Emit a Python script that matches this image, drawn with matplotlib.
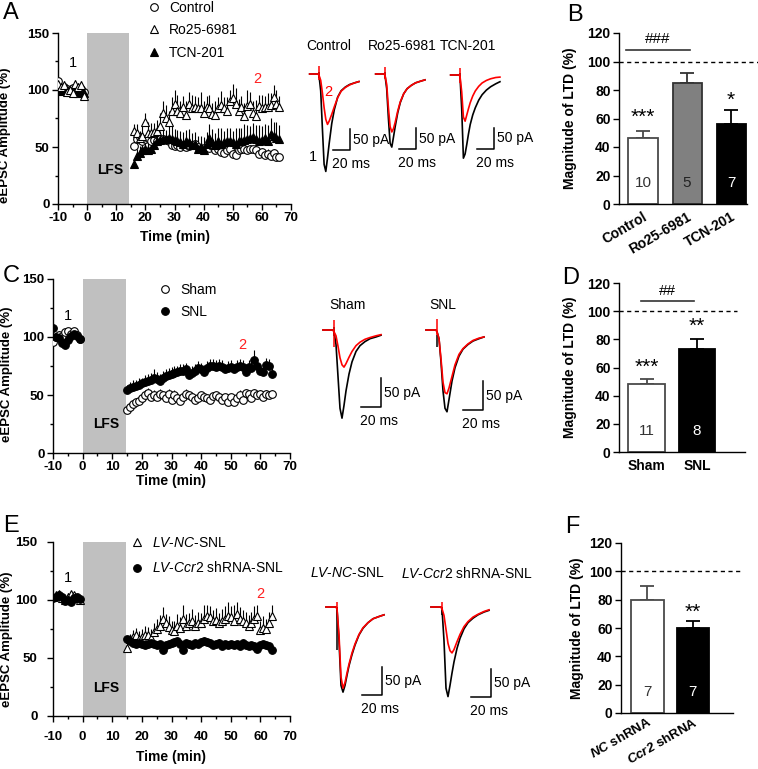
import numpy as np
import matplotlib
matplotlib.use('Agg')
import matplotlib.pyplot as plt
from matplotlib.ticker import MultipleLocator

plt.rcParams.update({
    'font.family': ['Liberation Sans', 'DejaVu Sans'],
    'font.size': 10,
    'axes.unicode_minus': False,
    'mathtext.fontset': 'custom',
    'mathtext.rm': 'Liberation Sans',
    'mathtext.it': 'Liberation Sans:italic',
    'mathtext.bf': 'Liberation Sans:bold:italic',
    'axes.linewidth': 1.0,
})

# ---------------- DATA ----------------
# Panel A (time course, % of baseline)
tA_base = [-10, -9, -8, -7, -6, -5, -4, -3, -2, -1]
tA_post = list(range(16, 67))
A_ctrl_base = [108, 100, 103, 101, 100, 102, 100, 99, 101, 98]
A_ctrl_post = [51, 57, 59, 55, 57, 58, 55, 56, 55, 57, 57, 56, 55, 52, 51, 52, 50, 52, 50, 51,
               52, 53, 50, 48, 49, 50, 49, 51, 47, 48, 46, 45, 47, 48, 44, 43, 47, 48, 48, 47,
               48, 48, 47, 44, 46, 43, 44, 42, 45, 41, 41]
A_ctrl_err_base = [3, 3, 2, 3, 2, 3, 2, 3, 2, 3]
A_ctrl_err_post = [4, 4, 3, 4, 3, 4, 3, 3, 4, 3, 3, 4, 3, 3, 3, 4, 3, 3, 3, 4,
                   3, 3, 4, 3, 3, 3, 4, 3, 3, 3, 4, 3, 3, 3, 4, 3, 3, 3, 4, 3,
                   3, 3, 4, 3, 3, 3, 4, 3, 3, 3, 3]
A_ro_base = [105, 103, 104, 98, 100, 97, 105, 103, 104, 95]
A_ro_post = [64, 62, 58, 60, 72, 62, 62, 63, 64, 68, 80, 75, 72, 82, 88, 82, 80, 85, 78, 88,
             84, 85, 84, 84, 80, 85, 84, 79, 78, 84, 87, 84, 82, 90, 93, 88, 82, 85, 77, 86,
             88, 80, 77, 86, 84, 85, 85, 87, 94, 88, 85]
A_ro_err_base = [4, 3, 4, 3, 4, 3, 4, 3, 4, 3]
A_ro_err_post = [6, 8, 6, 8, 8, 10, 9, 8, 10, 12, 10, 12, 10, 12, 12, 14, 10, 10, 12, 10,
                 12, 10, 10, 14, 10, 10, 12, 10, 12, 10, 12, 10, 12, 10, 12, 14, 10, 10, 12, 14,
                 10, 10, 14, 10, 12, 10, 12, 10, 10, 12, 10]
A_tcn_base = [100, 99, 101, 100, 98, 101, 99, 97, 100, 97]
A_tcn_post = [35, 42, 45, 47, 48, 47, 48, 52, 55, 56, 57, 57, 58, 57, 56, 55, 54, 53, 55, 54,
              52, 53, 48, 50, 47, 53, 58, 54, 52, 55, 53, 54, 55, 55, 54, 53, 55, 55, 56, 57,
              58, 59, 57, 55, 56, 58, 55, 61, 60, 58, 57]
A_tcn_err_base = [3, 2, 3, 2, 3, 2, 3, 2, 3, 2]
A_tcn_err_post = [4, 6, 6, 6, 6, 8, 8, 8, 8, 8, 10, 8, 10, 12, 10, 10, 10, 10, 10, 12,
                  10, 10, 12, 10, 12, 10, 12, 12, 10, 12, 14, 10, 12, 12, 10, 14, 12, 12, 14, 12,
                  10, 12, 12, 14, 12, 12, 14, 14, 12, 14, 12]

# Panel C
tC_base = [-10, -9, -8, -7, -6, -5, -4, -3, -2, -1]
tC_post = list(range(15, 65))
C_sham_base = [96, 100, 102, 101, 104, 105, 103, 105, 102, 98]
C_sham_post = [37, 40, 42, 44, 45, 47, 50, 52, 48, 50, 48, 51, 50, 47, 51, 46, 50, 47, 45, 48,
               51, 50, 48, 46, 47, 50, 48, 47, 46, 49, 50, 48, 46, 48, 44, 48, 44, 47, 50, 46,
               52, 51, 47, 52, 50, 51, 48, 51, 50, 51]
C_sham_err_base = [3, 3, 3, 3, 3, 3, 3, 3, 3, 3]
C_sham_err_post = [3, 3, 3, 3, 4, 3, 4, 4, 3, 4, 3, 4, 3, 3, 4, 3, 4, 3, 3, 3,
                   4, 3, 3, 3, 3, 3, 3, 3, 3, 3, 3, 3, 3, 3, 3, 3, 3, 3, 4, 3,
                   3, 3, 3, 3, 3, 3, 3, 3, 3, 3]
C_snl_base = [108, 100, 99, 95, 93, 97, 101, 103, 101, 98]
C_snl_post = [54, 56, 57, 58, 59, 60, 61, 62, 63, 65, 64, 62, 65, 66, 67, 68, 69, 70, 71, 71,
              72, 67, 69, 71, 73, 72, 70, 73, 75, 75, 74, 75, 74, 72, 73, 74, 72, 74, 75, 74,
              70, 74, 73, 80, 75, 71, 70, 76, 75, 68]
C_snl_err_base = [4, 3, 4, 3, 4, 3, 4, 3, 3, 3]
C_snl_err_post = [5, 5, 6, 5, 6, 5, 6, 6, 6, 7, 6, 6, 6, 6, 6, 6, 6, 5, 6, 6,
                  6, 5, 6, 6, 6, 6, 5, 6, 6, 6, 6, 6, 6, 5, 6, 6, 5, 6, 6, 6,
                  6, 6, 6, 9, 6, 6, 6, 6, 6, 6]

# Panel E
tE_base = [-10, -9, -8, -7, -6, -5, -4, -3, -2, -1]
tE_post = list(range(15, 65))
E_nc_base = [103, 104, 105, 102, 100, 103, 105, 104, 102, 100]
E_nc_post = [59, 66, 68, 70, 66, 68, 70, 70, 67, 72, 75, 78, 84, 80, 77, 74, 73, 78, 76, 84,
             78, 80, 82, 78, 80, 80, 84, 86, 85, 82, 83, 80, 82, 84, 86, 85, 82, 88, 84, 82,
             80, 78, 80, 84, 86, 74, 76, 75, 80, 86]
E_nc_err_base = [3, 3, 3, 3, 3, 3, 3, 3, 3, 3]
E_nc_err_post = [5, 5, 6, 6, 7, 7, 8, 7, 8, 8, 9, 9, 10, 8, 9, 8, 9, 10, 9, 12,
                 10, 9, 10, 9, 10, 9, 12, 10, 10, 9, 10, 9, 10, 11, 12, 10, 14, 10, 10, 9,
                 10, 9, 10, 11, 10, 8, 10, 9, 10, 10]
E_ccr_base = [102, 103, 104, 103, 99, 100, 98, 102, 103, 101]
E_ccr_post = [66, 65, 63, 62, 63, 62, 61, 62, 63, 62, 61, 62, 57, 61, 62, 63, 64, 65, 62, 57,
              63, 62, 61, 63, 62, 64, 65, 64, 63, 61, 62, 63, 60, 62, 61, 62, 61, 62, 60, 63,
              61, 60, 61, 60, 58, 61, 62, 61, 60, 57]
E_ccr_err_base = [2, 2, 2, 2, 2, 2, 2, 2, 2, 2]
E_ccr_err_post = [3, 3, 3, 3, 3, 3, 3, 3, 3, 3, 3, 3, 3, 3, 3, 3, 3, 3, 3, 3,
                  3, 3, 3, 3, 3, 3, 3, 3, 3, 3, 3, 3, 3, 3, 3, 3, 3, 3, 3, 3,
                  3, 3, 3, 3, 3, 3, 3, 3, 3, 3]

# Bar panels (magnitude of LTD, %)
B_labels = ['Control', 'Ro25-6981', 'TCN-201']
B_vals = [46, 85, 56]
B_errs = [5, 7, 10]
B_n = ['10', '5', '7']
D_labels = ['Sham', 'SNL']
D_vals = [48, 73]
D_errs = [4, 7]
D_n = ['11', '8']
F_labels = [r'$\mathbf{NC}$ shRNA', r'$\mathbf{Ccr2}$ shRNA']
F_vals = [80, 60]
F_errs = [10, 5]
F_n = ['7', '7']

# Example eEPSC traces (time in ms, current in pA)
trace_t = [-11, -1, 0, 2, 4, 6, 8, 10, 12, 15, 18, 22, 26, 31, 36, 42, 47]
tr_ctrl_1 = [0, 0, -3, -40, -130, -215, -232, -200, -165, -118, -85, -55, -40, -31, -25, -21, -18]
tr_ctrl_2 = [0, 0, -3, -15, -45, -80, -108, -120, -112, -96, -78, -56, -41, -32, -26, -21, -18]
tr_ro_1 = [0, 0, -3, -35, -105, -165, -174, -150, -125, -92, -68, -47, -35, -27, -21, -17, -14]
tr_ro_2 = [0, 0, -3, -25, -80, -125, -138, -130, -115, -88, -66, -47, -35, -27, -21, -17, -14]
tr_tcn_1 = [0, 0, -3, -80, -198, -188, -165, -140, -118, -95, -78, -60, -47, -36, -28, -21, -16]
tr_tcn_2 = [0, 0, -3, -40, -100, -110, -95, -80, -66, -50, -38, -27, -19, -13, -9, -6, -5]
tr_sham_1 = [0, 0, -3, -25, -80, -135, -152, -130, -105, -76, -55, -37, -27, -20, -15, -12, -9]
tr_sham_2 = [0, 0, -3, -10, -28, -48, -60, -64, -58, -47, -37, -27, -21, -16, -13, -10, -8]
tr_snl_1 = [0, 0, -3, -15, -55, -105, -135, -141, -120, -88, -65, -45, -33, -25, -19, -15, -12]
tr_snl_2 = [0, 0, -3, -15, -50, -90, -108, -110, -100, -80, -60, -42, -32, -24, -18, -14, -12]
tr_nc_1 = [0, 0, -3, -60, -140, -152, -140, -122, -105, -85, -68, -50, -38, -28, -21, -17, -14]
tr_nc_2 = [0, 0, -3, -50, -125, -145, -135, -118, -102, -82, -66, -49, -37, -28, -21, -17, -14]
tr_ccr_1 = [0, 0, -3, -60, -145, -160, -140, -118, -98, -74, -56, -39, -28, -20, -14, -9, -6]
tr_ccr_2 = [0, 0, -3, -15, -40, -65, -78, -82, -76, -62, -49, -35, -26, -18, -13, -8, -5]

# ---------------- FIGURE ----------------
W, H = 758, 769
fig = plt.figure(figsize=(W / 100, H / 100), dpi=100)


def rect(l, t, r, b):
    return [l / W, 1 - b / H, (r - l) / W, (b - t) / H]


def fx(x):
    return x / W


def fy(y):
    return 1 - y / H


def bold_ticks(ax, size=9.5):
    ax.tick_params(labelsize=size)
    for lab in ax.get_xticklabels() + ax.get_yticklabels():
        lab.set_fontweight('bold')


def ts_panel(r_px, series, lfs_end, one_xy, two_xy, lfs_xy, xlab_y, ylab_x, ylab_y,
             tick_pad=2):
    ax = fig.add_axes(rect(*r_px))
    ax.set_xlim(-10, 70)
    ax.set_ylim(0, 150)
    ax.spines['top'].set_visible(False)
    ax.spines['right'].set_visible(False)
    ax.set_xticks(range(-10, 71, 10))
    ax.xaxis.set_minor_locator(MultipleLocator(5))
    ax.set_yticks([0, 50, 100, 150])
    ax.yaxis.set_minor_locator(MultipleLocator(25))
    ax.tick_params(which='major', length=4, width=1, pad=tick_pad)
    ax.tick_params(which='minor', length=2.5, width=1)
    ax.axvspan(0, lfs_end, ymin=0, ymax=1, color='#c0c0c0', lw=0, zorder=0)
    handles = []
    for t, y, e, mk, fc, ms, lab in series:
        t = np.asarray(t); y = np.asarray(y); e = np.asarray(e)
        ax.vlines(t, y, y + e, color='k', lw=0.8, zorder=2)
        h, = ax.plot(t, y, ls='none', marker=mk, mfc=fc, mec='k', mew=0.8, ms=ms,
                     zorder=3, label=lab)
        handles.append(h)
    ax.text(lfs_xy[0], lfs_xy[1], 'LFS', ha='center', va='center', fontsize=10,
            fontweight='bold')
    ax.text(one_xy[0], one_xy[1], '1', ha='center', va='center', fontsize=10.5)
    ax.text(two_xy[0], two_xy[1], '2', ha='center', va='center', fontsize=10.5, color='#ff2020')
    ax.set_xlabel('Time (min)', fontsize=10, fontweight='bold')
    ax.xaxis.set_label_coords(0.5, xlab_y)
    ax.set_ylabel('eEPSC Amplitude (%)', fontsize=9.5, fontweight='bold')
    ax.yaxis.set_label_coords(ylab_x, ylab_y)
    bold_ticks(ax)
    return ax, handles


def bar_panel(r_px, xlim, labels, vals, errs, ns, width, dash_xmax, fcs, ecs, ncols,
              rot=30, xpad=4, xsize=10):
    ax = fig.add_axes(rect(*r_px))
    x = np.arange(len(vals))
    ax.set_xlim(*xlim)
    ax.set_ylim(0, 120)
    ax.spines['top'].set_visible(False)
    ax.spines['right'].set_visible(False)
    ax.set_yticks(range(0, 121, 20))
    ax.tick_params(axis='y', length=4, width=1, pad=2)
    for i in range(len(vals)):
        ax.bar(x[i], vals[i], width=width, color=fcs[i], edgecolor=ecs[i], lw=1.3, zorder=2)
        ax.errorbar(x[i], vals[i], yerr=[[0], [errs[i]]], fmt='none', ecolor=ecs[i],
                    elinewidth=1.3, capsize=5, capthick=1.3, zorder=1)
        ax.text(x[i], 15, ns[i], ha='center', va='center', fontsize=11, color=ncols[i],
                zorder=3)
    ax.axhline(100, xmin=0, xmax=dash_xmax, color='k', ls=(0, (3, 2.5)), lw=1,
               clip_on=False)
    ax.set_xticks(x)
    if rot:
        ax.set_xticklabels(labels, rotation=rot, ha='right', rotation_mode='anchor')
    else:
        ax.set_xticklabels(labels)
    ax.set_ylabel('Magnitude of LTD (%)', fontsize=10, fontweight='bold')
    ax.yaxis.set_label_coords(-0.33, 0.5)
    bold_ticks(ax, 10)
    ax.tick_params(axis='x', length=0, pad=xpad, labelsize=xsize)
    return ax


def trace_pair(xs, ys, sx, sy, black, red, art_red, art_black, corner, title, title_x,
               title_y, lab1=None, lab2=None):
    l = xs - 15 * sx; r = xs + 55 * sx; t = ys - 40 * sy; b = ys + 260 * sy
    ax = fig.add_axes(rect(l, t, r, b))
    ax.set_xlim(-15, 55)
    ax.set_ylim(-260, 40)
    ax.axis('off')
    ax.plot(trace_t, black, color='k', lw=1.2, zorder=2)
    ax.plot(trace_t, red, color='#ff0000', lw=1.2, zorder=3)
    ax.vlines(-0.2, art_black[1], art_black[0], color='k', lw=1.1, zorder=2)
    ax.vlines(0.2, art_red[1], art_red[0], color='#ff0000', lw=1.1, zorder=3)
    bx, by = corner
    ax.plot([bx - 20, bx, bx], [by, by, by + 50], color='k', lw=1.1, clip_on=False)
    ax.text(bx + 3 / sx, by + 25, '50 pA', ha='left', va='center', fontsize=10)
    ax.text(bx - 20 - 1 / sx, by - 14 / sy, '20 ms', ha='left', va='center', fontsize=10)
    if lab1:
        ax.text(lab1[0], lab1[1], '1', ha='center', va='center', fontsize=10.5)
    if lab2:
        ax.text(lab2[0], lab2[1], '2', ha='center', va='center', fontsize=10.5,
                color='#ff0000')
    fig.text(fx(title_x), fy(title_y), title, ha='center', va='center', fontsize=10)
    return ax


LEG = dict(bbox_transform=fig.transFigure, frameon=False, loc='upper left',
           handlelength=1.0, handletextpad=0.6, fontsize=10, borderaxespad=0, borderpad=0)

# ---- Panel A ----
axA, hA = ts_panel((58, 33, 291, 204),
                   [(tA_base + tA_post, A_ctrl_base + A_ctrl_post, A_ctrl_err_base + A_ctrl_err_post,
                     'o', 'white', 5.5, 'Control'),
                    (tA_base + tA_post, A_tcn_base + A_tcn_post, A_tcn_err_base + A_tcn_err_post,
                     '^', 'black', 6, 'TCN-201'),
                    (tA_base + tA_post, A_ro_base + A_ro_post, A_ro_err_base + A_ro_err_post,
                     '^', 'white', 6, 'Ro25-6981')],
                   14.5, (-5, 124), (58.5, 110), (8, 30), -0.15, -0.20, 0.40)
axA.legend([hA[0], hA[2], hA[1]], ['Control', 'Ro25-6981', 'TCN-201'],
           bbox_to_anchor=(fx(147), fy(1)), labelspacing=0.6, **LEG)

# ---- Panel C ----
axC, hC = ts_panel((53, 279, 290, 453),
                   [(tC_base + tC_post, C_sham_base + C_sham_post, C_sham_err_base + C_sham_err_post,
                     'o', 'white', 5.5, 'Sham'),
                    (tC_base + tC_post, C_snl_base + C_snl_post, C_snl_err_base + C_snl_err_post,
                     'o', 'black', 5.5, 'SNL')],
                   14.5, (-5, 118), (54, 93), (8, 25), -0.12, -0.17, 0.455)
axC.legend(hC, ['Sham', 'SNL'], bbox_to_anchor=(fx(158), fy(283)), labelspacing=0.55, **LEG)

# ---- Panel E ----
axE, hE = ts_panel((53, 542, 290, 716),
                   [(tE_base + tE_post, E_nc_base + E_nc_post, E_nc_err_base + E_nc_err_post,
                     '^', 'white', 6, 'NC'),
                    (tE_base + tE_post, E_ccr_base + E_ccr_post, E_ccr_err_base + E_ccr_err_post,
                     'o', 'black', 5.5, 'Ccr2')],
                   14.5, (-5, 119), (60, 105), (8, 24), -0.195, -0.17, 0.44, tick_pad=7)
axE.legend(hE, [r'$LV$-$NC$-SNL', r'$LV$-$\mathit{Ccr2}$ shRNA-SNL'],
           bbox_to_anchor=(fx(130), fy(536)), labelspacing=0.75, **LEG)

# ---- Panel B ----
axB = bar_panel((619, 33, 747, 204), (-0.545, 2.36), B_labels, B_vals, B_errs, B_n, 0.66,
                (2.61 + 0.545) / (2.36 + 0.545),
                ['white', '#808080', 'black'], ['#4a4a4a', '#333333', 'black'],
                ['#333333', '#222222', 'white'])
axB.text(0, 61, '***', ha='center', va='center', fontsize=15)
axB.text(2, 73, '*', ha='center', va='center', fontsize=15)
axB.plot([-0.39, 1.07], [108, 108], color='#333333', lw=1.2, clip_on=False)
axB.text(0.34, 116, '###', ha='center', va='center', fontsize=11)

# ---- Panel D ----
axD = bar_panel((619, 283, 745, 452), (-0.545, 1.95), D_labels, D_vals, D_errs, D_n, 0.72,
                (1.79 + 0.545) / (1.95 + 0.545),
                ['white', 'black'], ['#4a4a4a', 'black'], ['#333333', 'white'], rot=0,
                xpad=5)
axD.text(0, 60, '***', ha='center', va='center', fontsize=15)
axD.text(1, 89, '**', ha='center', va='center', fontsize=15)
axD.plot([-0.11, 0.94], [107, 107], color='#333333', lw=1.2, clip_on=False)
axD.text(0.42, 114, '##', ha='center', va='center', fontsize=11)

# ---- Panel F ----
axF = bar_panel((621, 543, 733, 713), (-0.58, 1.88), F_labels, F_vals, F_errs, F_n, 0.72,
                (2.08 + 0.58) / (1.88 + 0.58),
                ['white', 'black'], ['#4a4a4a', 'black'], ['#333333', 'white'],
                xpad=2, xsize=9.5)
axF.text(1, 71, '**', ha='center', va='center', fontsize=15)

# ---- Traces ----
trace_pair(319, 74, 0.85, 0.42, tr_ctrl_1, tr_ctrl_2, (19, -14), (5, -10), (36.5, -181),
           'Control', 329, 46, lab1=(-7, -198), lab2=(10.6, -43))
trace_pair(385, 74, 0.85, 0.42, tr_ro_1, tr_ro_2, (17, -12), (5, -10), (36.5, -179),
           'Ro25-6981', 402, 46)
trace_pair(460, 75, 0.85, 0.42, tr_tcn_1, tr_tcn_2, (17, -19), (5, -10), (40, -176),
           'TCN-201', 468, 46)
trace_pair(334, 330, 1.0, 0.58, tr_sham_1, tr_sham_2, (17, -29), (5, -10), (47, -133),
           'Sham', 348, 305)
trace_pair(437, 330, 1.0, 0.58, tr_snl_1, tr_snl_2, (19, -9), (-9, -29), (46, -138),
           'SNL', 443, 305)
trace_pair(337, 607, 1.0, 0.56, tr_nc_1, tr_nc_2, (9, -5), (0, -77), (45, -157),
           r'$LV$-$NC$-SNL', 347, 573)
trace_pair(442, 607, 1.0, 0.56, tr_ccr_1, tr_ccr_2, (9, -5), (0, -14), (49, -161),
           r'$LV$-$\mathit{Ccr2}$ shRNA-SNL', 467, 573)

# ---- Panel letters ----
for letter, x, y in [('A', 3, 13), ('B', 567, 15), ('C', 3, 276), ('D', 562, 278),
                     ('E', 3, 526), ('F', 565, 527)]:
    fig.text(fx(x), fy(y), letter, fontsize=17, ha='left', va='center')

fig.savefig('out.png', dpi=100)
